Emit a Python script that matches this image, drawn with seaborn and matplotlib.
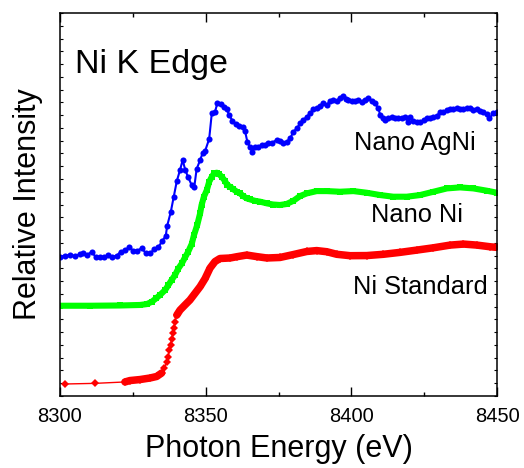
import numpy as np
import pandas as pd
import matplotlib
matplotlib.use("Agg")
import matplotlib.pyplot as plt
import seaborn as sns
from matplotlib.ticker import MultipleLocator

# ---------------- data ----------------
agni_energy = [8300.0, 8301.7, 8303.4, 8305.1, 8306.9, 8308.0, 8309.4, 8310.9, 8312.3, 8313.7,
               8315.1, 8316.6, 8318.0, 8319.5, 8320.8, 8322.3, 8323.7, 8325.2, 8326.5, 8328.0,
               8329.4, 8330.9, 8332.3, 8333.7, 8335.1, 8336.3, 8336.8, 8338.0, 8339.0, 8340.1,
               8341.2, 8342.1, 8343.0, 8344.0, 8345.2, 8346.1, 8346.9, 8348.1, 8349.0, 8349.8,
               8351.2, 8352.1, 8353.2, 8354.0, 8355.2, 8356.3, 8357.2, 8358.1, 8359.2, 8360.3,
               8361.5, 8362.7, 8363.5, 8364.3, 8365.2, 8366.0, 8366.9, 8368.1, 8369.2, 8370.4,
               8371.5, 8372.7, 8374.4, 8375.5, 8376.7, 8377.8, 8379.0, 8380.1, 8381.3, 8382.4,
               8383.5, 8384.7, 8385.8, 8387.0, 8388.1, 8389.3, 8390.4, 8391.6, 8392.7, 8393.8,
               8395.0, 8396.1, 8397.3, 8398.2, 8399.0, 8400.1, 8401.3, 8402.4, 8403.6, 8404.7,
               8405.8, 8407.0, 8408.1, 8409.3, 8409.9, 8410.8, 8411.6, 8412.7, 8413.9, 8415.0,
               8416.1, 8417.3, 8418.4, 8419.6, 8420.2, 8421.3, 8422.5, 8423.6, 8424.8, 8425.9,
               8427.0, 8428.2, 8429.3, 8430.5, 8431.6, 8432.8, 8433.9, 8435.0, 8436.2, 8437.3,
               8438.5, 8439.6, 8440.8, 8441.9, 8443.0, 8444.2, 8445.3, 8446.5, 8447.4, 8448.7,
               8449.9]
agni_intensity = [1.091, 1.099, 1.104, 1.096, 1.112, 1.117, 1.107, 1.130, 1.086, 1.091,
                  1.086, 1.104, 1.091, 1.099, 1.130, 1.143, 1.164, 1.138, 1.138, 1.157,
                  1.122, 1.117, 1.149, 1.164, 1.214, 1.255, 1.334, 1.439, 1.556, 1.684,
                  1.770, 1.848, 1.770, 1.713, 1.652, 1.639, 1.778, 1.848, 1.905, 1.919,
                  2.013, 2.214, 2.226, 2.292, 2.287, 2.265, 2.247, 2.200, 2.156, 2.128,
                  2.117, 2.109, 2.078, 1.991, 1.952, 1.913, 1.952, 1.952, 1.966, 1.966,
                  1.979, 1.984, 2.005, 1.997, 1.984, 1.991, 2.018, 2.070, 2.096, 2.135,
                  2.161, 2.187, 2.214, 2.247, 2.258, 2.273, 2.292, 2.279, 2.310, 2.318,
                  2.310, 2.336, 2.352, 2.326, 2.318, 2.312, 2.310, 2.318, 2.305, 2.318,
                  2.331, 2.312, 2.292, 2.253, 2.200, 2.175, 2.161, 2.175, 2.182, 2.179,
                  2.175, 2.175, 2.182, 2.148, 2.187, 2.153, 2.143, 2.148, 2.161, 2.175,
                  2.175, 2.187, 2.195, 2.222, 2.226, 2.240, 2.247, 2.247, 2.253, 2.247,
                  2.247, 2.253, 2.253, 2.240, 2.247, 2.232, 2.226, 2.206, 2.175, 2.214,
                  2.226]

ni_energy = [8300.0, 8310.3, 8320.6, 8327.5, 8329.8, 8331.5, 8333.0, 8334.3, 8336.1, 8337.2,
             8338.3, 8339.5, 8340.6, 8341.8, 8342.9, 8344.0, 8345.2, 8346.0, 8347.1, 8348.1,
             8348.6, 8349.4, 8350.4, 8351.2, 8352.1, 8352.9, 8353.8, 8354.6, 8355.5, 8356.6,
             8357.4, 8358.4, 8359.5, 8360.7, 8361.8, 8362.9, 8364.1, 8365.2, 8366.9, 8368.7,
             8371.0, 8373.1, 8375.5, 8377.8, 8380.1, 8382.4, 8384.7, 8388.1, 8391.6, 8396.1,
             8400.7, 8405.3, 8409.9, 8414.4, 8419.0, 8423.6, 8428.2, 8432.8, 8437.3, 8441.9,
             8446.5, 8450.0]
ni_intensity = [0.707, 0.707, 0.709, 0.713, 0.720, 0.738, 0.765, 0.791, 0.830, 0.869,
                0.908, 0.948, 0.998, 1.038, 1.085, 1.130, 1.190, 1.261, 1.339, 1.431,
                1.496, 1.561, 1.613, 1.678, 1.717, 1.744, 1.749, 1.738, 1.717, 1.686,
                1.652, 1.639, 1.619, 1.600, 1.587, 1.566, 1.548, 1.540, 1.529, 1.522,
                1.509, 1.500, 1.496, 1.504, 1.529, 1.566, 1.587, 1.605, 1.605, 1.600,
                1.605, 1.592, 1.574, 1.561, 1.561, 1.574, 1.600, 1.626, 1.634, 1.626,
                1.608, 1.592]

std_energy = [8301.7, 8312.0, 8322.3, 8324.0, 8327.5, 8330.9, 8333.2, 8334.9, 8335.8, 8336.6,
              8337.2, 8337.5, 8338.0, 8338.3, 8338.7, 8339.1, 8339.5, 8340.1, 8341.2, 8342.9,
              8344.6, 8346.3, 8348.1, 8349.8, 8351.5, 8353.2, 8354.9, 8358.4, 8360.7, 8364.1,
              8367.5, 8371.0, 8375.5, 8380.1, 8384.7, 8388.1, 8391.6, 8395.0, 8399.6, 8405.3,
              8411.0, 8416.7, 8422.5, 8428.2, 8433.9, 8438.5, 8443.1, 8447.6, 8450.0]
std_intensity = [0.094, 0.099, 0.110, 0.121, 0.129, 0.141, 0.153, 0.180, 0.217, 0.266,
                 0.309, 0.360, 0.403, 0.446, 0.491, 0.530, 0.582, 0.634, 0.673, 0.713,
                 0.752, 0.803, 0.857, 0.920, 1.002, 1.053, 1.077, 1.081, 1.091, 1.104,
                 1.092, 1.081, 1.085, 1.108, 1.132, 1.139, 1.130, 1.110, 1.099, 1.100,
                 1.110, 1.125, 1.143, 1.161, 1.182, 1.190, 1.182, 1.169, 1.164]

x_ticks = [8300, 8350, 8400, 8450]
x_tick_labels = ["8300", "8350", "8400", "8450"]
title_text = "Ni K Edge"
series_labels = ["Nano AgNi", "Nano Ni", "Ni Standard"]
x_title = "Photon Energy (eV)"
y_title = "Relative Intensity"

# ---------------- styling ----------------
sns.set_theme(style="ticks")
plt.rcParams["font.family"] = ["Liberation Sans", "DejaVu Sans"]
plt.rcParams["text.color"] = "black"
plt.rcParams["axes.labelcolor"] = "black"
plt.rcParams["xtick.color"] = "black"
plt.rcParams["ytick.color"] = "black"
plt.rcParams["axes.edgecolor"] = "black"

fig = plt.figure(figsize=(5.24, 4.68), dpi=100)
ax = fig.add_axes([60 / 524, 72 / 468, 437 / 524, 383 / 468])

agni = pd.DataFrame({"E": agni_energy, "I": agni_intensity})
ni = pd.DataFrame({"E": ni_energy, "I": ni_intensity})
std = pd.DataFrame({"E": std_energy, "I": std_intensity})

# Nano AgNi : blue circles joined by a line
sns.lineplot(data=agni, x="E", y="I", ax=ax, color="#0000ff", linewidth=1.5,
             marker="o", markersize=4.4, markeredgewidth=0, estimator=None, sort=False)

# Nano Ni : dense green squares
sns.lineplot(data=ni, x="E", y="I", ax=ax, color="#00ff00", linewidth=4.4,
             estimator=None, sort=False)
sns.lineplot(data=ni, x="E", y="I", ax=ax, color="#00ff00", linewidth=0,
             marker="s", markersize=4.6, markeredgewidth=0, estimator=None, sort=False)

# Ni Standard : red diamonds, dense (band) except the sparse start and the steep edge
sns.lineplot(data=std, x="E", y="I", ax=ax, color="#ff0000", linewidth=1.0,
             marker="D", markersize=4.2, markeredgewidth=0, estimator=None, sort=False)
dense_a = std[(std["E"] >= 8322) & (std["E"] <= 8335)]
dense_b = std[std["E"] >= 8340]
for part in (dense_a, dense_b):
    sns.lineplot(data=part, x="E", y="I", ax=ax, color="#ff0000", linewidth=5.4,
                 estimator=None, sort=False, solid_capstyle="round")

ax.set_xlim(8300, 8450)
ax.set_ylim(0, 3.0)
ax.set_xticks(x_ticks)
ax.set_xticklabels(x_tick_labels)
ax.xaxis.set_minor_locator(MultipleLocator(25))
ax.set_yticks(np.arange(0, 3.01, 0.1))
ax.set_yticklabels([])

ax.tick_params(axis="x", which="major", direction="in", length=6.5, width=1,
               top=True, bottom=True, labelsize=14.5, pad=8, colors="black")
ax.tick_params(axis="x", which="minor", direction="in", length=3, width=1,
               top=True, bottom=True, colors="black")
ax.tick_params(axis="y", which="major", direction="in", length=2.5, width=0.8,
               left=True, right=True, colors="black")
for s in ax.spines.values():
    s.set_visible(True)
    s.set_linewidth(1.1)
    s.set_color("black")

ax.set_xlabel(x_title, fontsize=22, labelpad=6, color="black")
ax.set_ylabel(y_title, fontsize=22, labelpad=9, color="black")

ax.text(0.034, 0.843, title_text, transform=ax.transAxes, fontsize=24.5,
        ha="left", va="baseline", color="black")
ax.text(0.812, 0.642, series_labels[0], transform=ax.transAxes, fontsize=18.3,
        ha="center", va="baseline", color="black")
ax.text(0.817, 0.455, series_labels[1], transform=ax.transAxes, fontsize=18.3,
        ha="center", va="baseline", color="black")
ax.text(0.824, 0.2655, series_labels[2], transform=ax.transAxes, fontsize=18.3,
        ha="center", va="baseline", color="black")

fig.savefig("out.png", dpi=100)
